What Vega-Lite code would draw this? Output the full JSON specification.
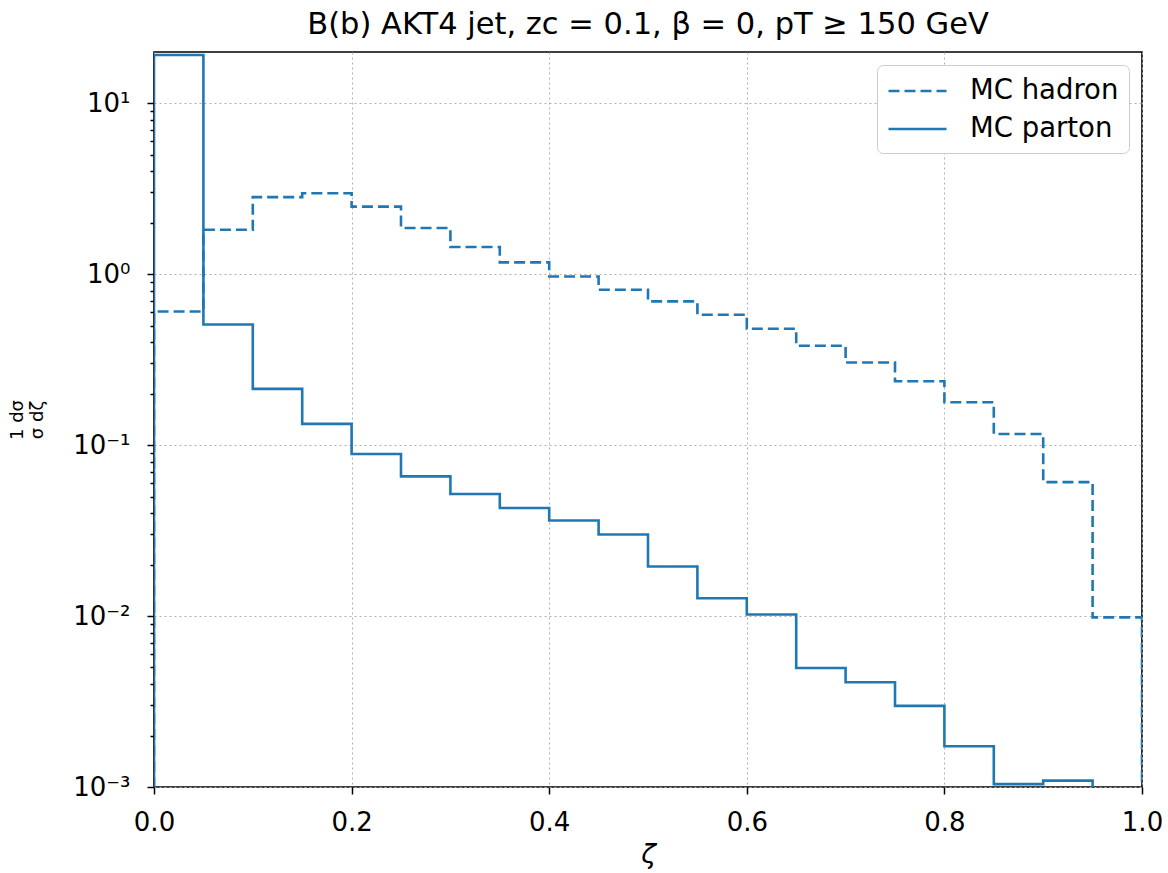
{
  "$schema": "https://vega.github.io/schema/vega-lite/v6.json",
  "width": 988,
  "height": 735,
  "autosize": {"type": "none"},
  "padding": {"left": 154, "top": 52, "right": 26, "bottom": 86},
  "background": "white",
  "title": {
    "text": "B(b) AKT4 jet, zc = 0.1, β = 0, pT ≥ 150 GeV",
    "font": "DejaVu Sans",
    "fontSize": 30.5,
    "fontWeight": "normal",
    "color": "black",
    "anchor": "middle",
    "frame": "group",
    "offset": 12
  },
  "data": {
    "values": [
      {"series": "MC hadron", "x": 0, "y": 0.000001, "o": 0},
      {"series": "MC hadron", "x": 0, "y": 0.604, "o": 1},
      {"series": "MC hadron", "x": 0.05, "y": 1.815, "o": 2},
      {"series": "MC hadron", "x": 0.1, "y": 2.82, "o": 3},
      {"series": "MC hadron", "x": 0.15, "y": 2.97, "o": 4},
      {"series": "MC hadron", "x": 0.2, "y": 2.48, "o": 5},
      {"series": "MC hadron", "x": 0.25, "y": 1.86, "o": 6},
      {"series": "MC hadron", "x": 0.3, "y": 1.44, "o": 7},
      {"series": "MC hadron", "x": 0.35, "y": 1.17, "o": 8},
      {"series": "MC hadron", "x": 0.4, "y": 0.968, "o": 9},
      {"series": "MC hadron", "x": 0.45, "y": 0.81, "o": 10},
      {"series": "MC hadron", "x": 0.5, "y": 0.692, "o": 11},
      {"series": "MC hadron", "x": 0.55, "y": 0.578, "o": 12},
      {"series": "MC hadron", "x": 0.6, "y": 0.479, "o": 13},
      {"series": "MC hadron", "x": 0.65, "y": 0.381, "o": 14},
      {"series": "MC hadron", "x": 0.7, "y": 0.304, "o": 15},
      {"series": "MC hadron", "x": 0.75, "y": 0.236, "o": 16},
      {"series": "MC hadron", "x": 0.8, "y": 0.178, "o": 17},
      {"series": "MC hadron", "x": 0.85, "y": 0.116, "o": 18},
      {"series": "MC hadron", "x": 0.9, "y": 0.0607, "o": 19},
      {"series": "MC hadron", "x": 0.95, "y": 0.00982, "o": 20},
      {"series": "MC hadron", "x": 1.0, "y": 0.00982, "o": 21},
      {"series": "MC hadron", "x": 1.0, "y": 0.000001, "o": 22},
      {"series": "MC parton", "x": 0, "y": 0.000001, "o": 0},
      {"series": "MC parton", "x": 0, "y": 19.1, "o": 1},
      {"series": "MC parton", "x": 0.05, "y": 0.507, "o": 2},
      {"series": "MC parton", "x": 0.1, "y": 0.213, "o": 3},
      {"series": "MC parton", "x": 0.15, "y": 0.133, "o": 4},
      {"series": "MC parton", "x": 0.2, "y": 0.0887, "o": 5},
      {"series": "MC parton", "x": 0.25, "y": 0.0656, "o": 6},
      {"series": "MC parton", "x": 0.3, "y": 0.0517, "o": 7},
      {"series": "MC parton", "x": 0.35, "y": 0.0428, "o": 8},
      {"series": "MC parton", "x": 0.4, "y": 0.0362, "o": 9},
      {"series": "MC parton", "x": 0.45, "y": 0.03, "o": 10},
      {"series": "MC parton", "x": 0.5, "y": 0.0195, "o": 11},
      {"series": "MC parton", "x": 0.55, "y": 0.0127, "o": 12},
      {"series": "MC parton", "x": 0.6, "y": 0.0102, "o": 13},
      {"series": "MC parton", "x": 0.65, "y": 0.00497, "o": 14},
      {"series": "MC parton", "x": 0.7, "y": 0.0041, "o": 15},
      {"series": "MC parton", "x": 0.75, "y": 0.00298, "o": 16},
      {"series": "MC parton", "x": 0.8, "y": 0.00173, "o": 17},
      {"series": "MC parton", "x": 0.85, "y": 0.00104, "o": 18},
      {"series": "MC parton", "x": 0.9, "y": 0.00109, "o": 19},
      {"series": "MC parton", "x": 0.95, "y": 0.000001, "o": 20},
      {"series": "MC parton", "x": 1.0, "y": 0.000001, "o": 21}
    ]
  },
  "mark": {
    "type": "line",
    "interpolate": "step-after",
    "clip": true,
    "strokeWidth": 2.6,
    "color": "#1f77b4",
    "strokeCap": "butt",
    "strokeJoin": "miter"
  },
  "encoding": {
    "x": {
      "field": "x",
      "type": "quantitative",
      "scale": {"domain": [0, 1], "nice": false, "zero": false},
      "axis": {
        "title": "ζ",
        "titleFontStyle": "italic",
        "titleFontSize": 27,
        "titleFontWeight": "normal",
        "titleColor": "black",
        "titlePadding": 6,
        "values": [0, 0.2, 0.4, 0.6, 0.8, 1.0],
        "format": ".1f",
        "labelFontSize": 26,
        "labelColor": "black",
        "labelPadding": 15,
        "labelFlush": false,
        "tickSize": 7,
        "tickWidth": 1.5,
        "tickColor": "black",
        "domain": false,
        "grid": true,
        "gridColor": "#b0b0b0",
        "gridDash": [2, 3],
        "gridWidth": 1
      }
    },
    "y": {
      "field": "y",
      "type": "quantitative",
      "scale": {"type": "log", "domain": [0.001, 19.9], "nice": false},
      "axis": {
        "title": ["1 dσ", "σ dζ"],
        "titleFontSize": 18,
        "titleFontWeight": "normal",
        "titleColor": "black",
        "titlePadding": 26,
        "titleLineHeight": 20,
        "values": [0.001, 0.002, 0.003, 0.004, 0.005, 0.006, 0.007, 0.008, 0.009, 0.01, 0.02, 0.03, 0.04, 0.05, 0.06, 0.07, 0.08, 0.09, 0.1, 0.2, 0.3, 0.4, 0.5, 0.6, 0.7, 0.8, 0.9, 1, 2, 3, 4, 5, 6, 7, 8, 9, 10],
        "labelExpr": "datum.value == 10 ? '10¹' : datum.value == 1 ? '10⁰' : datum.value == 0.1 ? '10⁻¹' : datum.value == 0.01 ? '10⁻²' : datum.value == 0.001 ? '10⁻³' : ''",
        "labelOverlap": false,
        "labelFlush": false,
        "labelFontSize": 26,
        "labelColor": "black",
        "labelPadding": 17,
        "tickSize": {"condition": {"test": "datum.value == 0.001 || datum.value == 0.01 || datum.value == 0.1 || datum.value == 1 || datum.value == 10", "value": 7}, "value": 4},
        "tickWidth": 1.5,
        "tickColor": "black",
        "domain": false,
        "grid": true,
        "gridColor": "#b0b0b0",
        "gridDash": [2, 3],
        "gridWidth": 1,
        "gridOpacity": {"condition": {"test": "datum.value == 0.001 || datum.value == 0.01 || datum.value == 0.1 || datum.value == 1 || datum.value == 10", "value": 1}, "value": 0}
      }
    },
    "strokeDash": {
      "field": "series",
      "type": "nominal",
      "scale": {"domain": ["MC hadron", "MC parton"], "range": [[11, 5], [1, 0]]},
      "legend": {
        "title": null,
        "orient": "top-right",
        "offset": 13,
        "symbolType": "M-1,0H3",
        "symbolSize": 841,
        "symbolStrokeWidth": 2.6,
        "symbolStrokeColor": "#1f77b4",
        "labelFontSize": 27.5,
        "labelColor": "black",
        "labelOffset": 51,
        "rowPadding": 8,
        "padding": 10,
        "fillColor": "white",
        "strokeColor": "#cccccc",
        "cornerRadius": 6
      }
    },
    "order": {"field": "o", "type": "quantitative"}
  },
  "config": {
    "font": "DejaVu Sans",
    "view": {"stroke": "black", "strokeWidth": 1.6},
    "axis": {"labelFont": "DejaVu Sans", "titleFont": "DejaVu Sans"},
    "legend": {"labelFont": "DejaVu Sans"}
  }
}
